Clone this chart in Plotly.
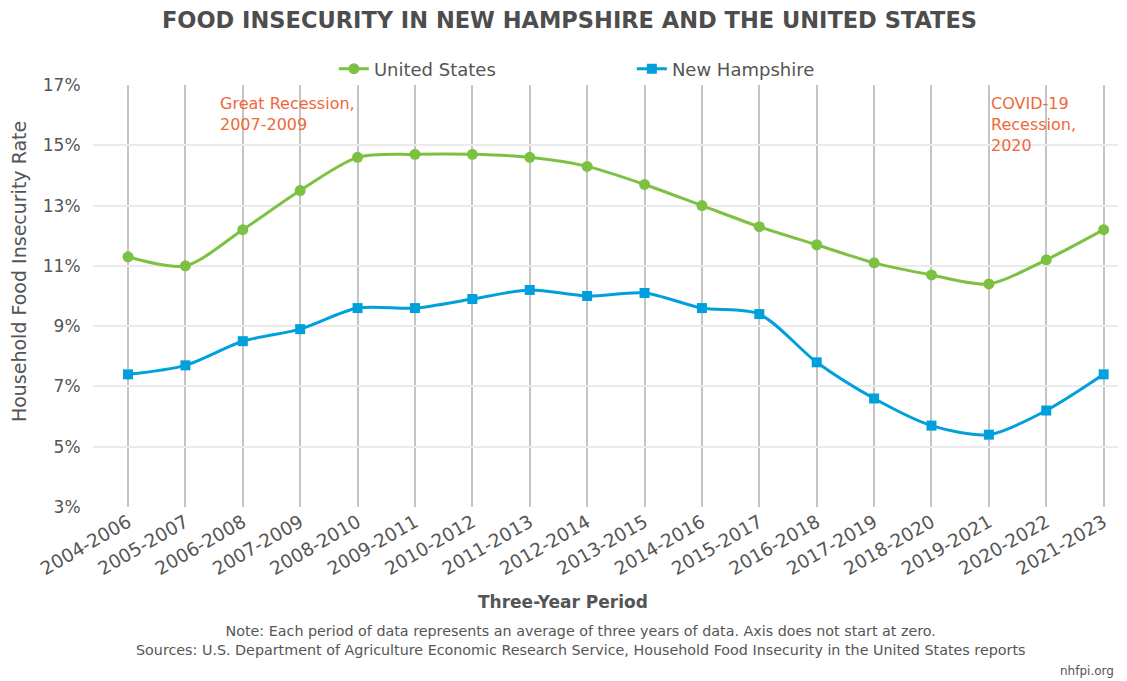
import plotly.graph_objects as go

# three-year periods and rates (%)
periods = ["2004-2006", "2005-2007", "2006-2008", "2007-2009", "2008-2010", "2009-2011",
           "2010-2012", "2011-2013", "2012-2014", "2013-2015", "2014-2016", "2015-2017",
           "2016-2018", "2017-2019", "2018-2020", "2019-2021", "2020-2022", "2021-2023"]
us_rate = [11.3, 11.0, 12.2, 13.5, 14.6, 14.7, 14.7, 14.6, 14.3, 13.7, 13.0, 12.3,
           11.7, 11.1, 10.7, 10.4, 11.2, 12.2]
nh_rate = [7.4, 7.7, 8.5, 8.9, 9.6, 9.6, 9.9, 10.2, 10.0, 10.1, 9.6, 9.4,
           7.8, 6.6, 5.7, 5.4, 6.2, 7.4]
y_ticks = [3, 5, 7, 9, 11, 13, 15, 17]

GREEN = "#7dc142"
BLUE = "#00a0dd"
ORANGE = "#f0683a"
GRAY = "#555555"
FONT = "DejaVu Sans"

# page body adds an 8px margin, so the figure is 8px smaller than the window
W, H = 1119, 673

fig = go.Figure()
fig.add_trace(go.Scatter(x=periods, y=us_rate, name="United States", mode="lines+markers",
                         line=dict(color=GREEN, width=3, shape="spline", smoothing=0.8),
                         marker=dict(symbol="circle", size=11, color=GREEN)))
fig.add_trace(go.Scatter(x=periods, y=nh_rate, name="New Hampshire", mode="lines+markers",
                         line=dict(color=BLUE, width=3, shape="spline", smoothing=0.8),
                         marker=dict(symbol="square", size=10, color=BLUE)))

fig.add_annotation(x=1.57, y=16.78, xref="x", yref="y", text="Great Recession,<br>2007-2009",
                   showarrow=False, xanchor="left", yanchor="top", align="left",
                   font=dict(family=FONT, size=16, color=ORANGE))
fig.add_annotation(x=15.0, y=16.78, xref="x", yref="y", text="COVID-19<br>Recession,<br>2020",
                   showarrow=False, xanchor="left", yanchor="top", align="left",
                   font=dict(family=FONT, size=16, color=ORANGE))

# axis titles as annotations (centred on the page rather than the plot)
fig.add_annotation(x=0.4585, y=-0.225, xref="paper", yref="paper", text="<b>Three-Year Period</b>",
                   showarrow=False, xanchor="center", yanchor="middle",
                   font=dict(family=FONT, size=17, color=GRAY))
fig.add_annotation(x=-0.0722, y=0.559, xref="paper", yref="paper", text="Household Food Insecurity Rate",
                   showarrow=False, xanchor="center", yanchor="middle", textangle=-90,
                   font=dict(family=FONT, size=19, color=GRAY))

fig.add_annotation(x=0.476, y=-0.3175, xref="paper", yref="paper",
                   text="Note: Each period of data represents an average of three years of data. Axis does not start at zero.<br>"
                        "Sources: U.S. Department of Agriculture Economic Research Service, Household Food Insecurity in the United States reports",
                   showarrow=False, xanchor="center", yanchor="middle", align="center",
                   font=dict(family=FONT, size=14.3, color=GRAY))
fig.add_annotation(x=0.998, y=-0.389, xref="paper", yref="paper", text="nhfpi.org",
                   showarrow=False, xanchor="right", yanchor="middle",
                   font=dict(family=FONT, size=12, color=GRAY))

fig.update_layout(
    width=W, height=H,
    paper_bgcolor="white", plot_bgcolor="white",
    margin=dict(l=85, r=9, t=77, b=174, autoexpand=False),
    title=dict(text="<b>FOOD INSECURITY IN NEW HAMPSHIRE AND THE UNITED STATES</b>",
               x=0.5018, xanchor="center", y=1 - 12 / H, yanchor="middle",
               font=dict(family=FONT, size=22.5, color="#4d4d4d")),
    legend=dict(orientation="h", x=0.235, xanchor="left", yref="container",
                y=1 - 61 / H, yanchor="middle",
                font=dict(family=FONT, size=18, color=GRAY), entrywidth=253,
                bgcolor="rgba(0,0,0,0)"),
    font=dict(family=FONT, color=GRAY),
)
fig.update_xaxes(type="category", range=[-0.61, 17.25], tickangle=-30, automargin=False,
                 showgrid=True, gridcolor="#c4c4c4", gridwidth=1.5,
                 tickfont=dict(family=FONT, size=18.5, color=GRAY), ticks="", showline=False)
fig.update_yaxes(range=[3, 17], tickvals=y_ticks, ticktext=[f"{v}%" for v in y_ticks],
                 automargin=False,
                 showgrid=True, gridcolor="#ebebeb", gridwidth=1.5, zeroline=False,
                 tickfont=dict(family=FONT, size=17, color=GRAY), ticks="outside",
                 ticklen=8, tickcolor="white")

fig.write_html("out.html")
